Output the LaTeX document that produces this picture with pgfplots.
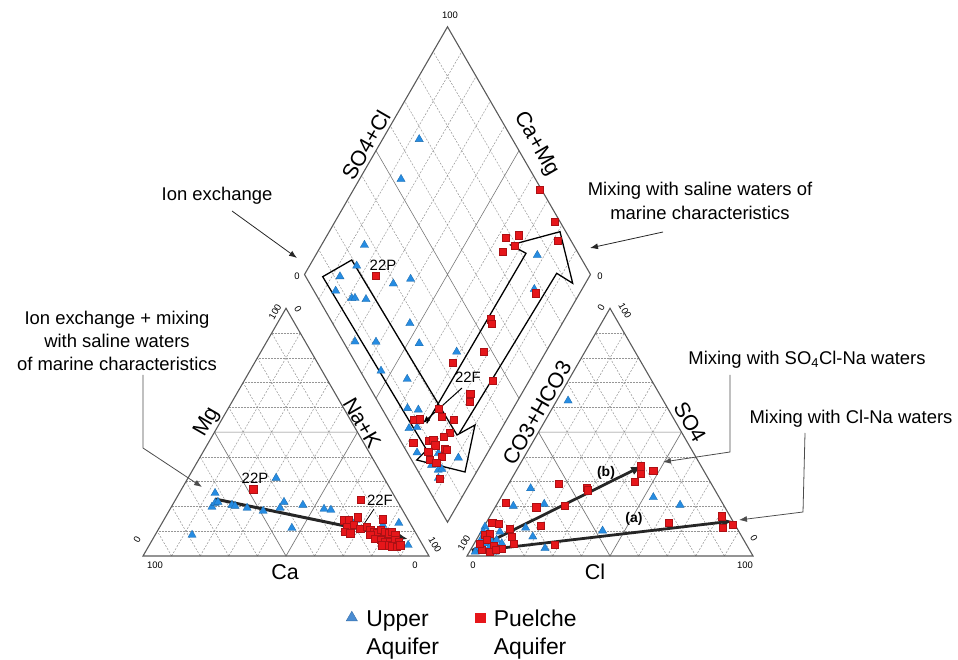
\documentclass[border=0pt]{standalone}
\usepackage{pgfplots}
\pgfplotsset{compat=1.18}
\usepackage{pgfplotstable}
\usepackage{fontspec}
\setmainfont{Liberation Sans}
\usetikzlibrary{arrows.meta}

\definecolor{upblue}{RGB}{38,140,226}
\definecolor{legblue}{RGB}{74,140,210}
\definecolor{pured}{RGB}{230,22,26}
\definecolor{framec}{RGB}{90,90,90}
\definecolor{gridc}{RGB}{150,150,150}

% Cation triangle: Mg and Na+K in percent (Ca = 100 - Mg - NaK)
\pgfplotstableread{
Mg NaK
31.5 30.8
25.4 12.5
19.8 14.2
21.4 14.5
21.8 15.3
20.6 20.8
20.2 22.1
19.4 26.7
18.2 32.9
19.4 38.2
21.8 38.4
20.6 45.6
19.0 53.8
18.6 56.4
11.3 46.4
8.5 12.9
14.5 67.2
12.5 77.6
13.3 82.8
4.4 90.5
}\catupper
\pgfplotstableread{
Mg NaK
27.0 25.0
22.6 64.9
14.9 76.4
15.7 67.3
14.5 62.8
14.5 64.6
11.8 65.3
12.5 67.3
9.8 65.7
9.2 67.8
11.2 70.3
11.8 72.3
10.5 74.2
9.8 75.6
9.2 77.1
10.5 77.7
9.8 79.7
9.2 81.2
9.8 82.0
8.5 83.9
8.5 75.2
7.1 77.6
6.5 79.7
5.8 81.7
5.8 83.5
6.5 84.9
5.8 86.4
4.4 83.0
4.0 84.9
3.8 86.8
4.4 87.7
4.4 81.3
}\catpuel

% Anion triangle: SO4 and Cl in percent (CO3+HCO3 = 100 - SO4 - Cl)
\pgfplotstableread{
SO4 Cl
62.7 4.0
27.3 8.6
20.2 6.1
21.0 16.5
23.7 53.3
20.6 64.2
10.2 42.3
11.4 14.8
7.8 19.1
3.1 25.7
11.8 0.4
9.8 0.8
9.2 2.8
7.1 1.6
5.1 4.3
5.8 5.7
9.8 6.6
6.5 7.1
5.1 9.6
3.1 2.4
2.4 4.5
3.8 6.1
1.7 8.9
1.7 2.0
}\anupper
\pgfplotstableread{
SO4 Cl
36.3 42.6
33.1 44.3
34.4 47.9
30.0 43.5
29.3 17.5
27.7 28.0
26.6 28.8
21.5 2.8
19.7 14.3
20.2 23.9
12.1 19.7
13.4 63.7
16.1 81.0
11.6 83.5
12.5 86.7
4.7 28.2
13.4 2.1
12.9 4.5
8.5 2.0
8.9 3.6
6.7 3.6
7.8 11.7
5.1 13.7
3.1 10.6
4.0 7.2
2.4 3.9
1.7 7.0
2.4 8.9
11.2 9.4
5.1 2.0
}\anpuel

% Diamond: SO4+Cl and Ca+Mg in percent
\pgfplotstableread{
SC CM
67.4 87.2
53.0 85.5
26.9 85.0
20.0 83.5
12.0 87.2
7.6 85.8
11.7 78.7
12.9 77.6
16.5 73.5
29.2 67.1
36.2 62.0
27.0 53.3
4.1 68.8
11.4 61.4
26.2 46.0
7.3 53.8
14.8 43.0
37.6 31.2
85.3 22.5
77.4 16.7
9.0 37.0
12.5 32.9
5.5 32.4
8.5 29.8
3.4 24.7
16.8 9.2
6.0 17.1
7.3 13.8
8.7 12.7
10.7 17.1
5.7 12.1
}\dmupper
\pgfplotstableread{
SC CM
24.7 74.7
99.4 34.7
98.0 23.3
95.3 18.2
77.8 37.1
82.7 33.2
73.9 35.3
79.1 32.4
77.2 15.3
56.2 25.8
55.6 24.7
46.9 21.9
34.0 30.5
44.3 13.0
33.8 18.0
32.2 16.5
19.8 26.2
19.3 23.4
22.8 18.7
8.8 32.7
11.0 30.6
18.7 17.4
15.8 18.7
9.8 23.2
11.6 21.6
4.0 28.0
11.2 19.9
14.0 15.8
14.3 14.9
7.5 21.0
11.2 15.3
6.5 18.7
6.0 11.7
8.0 16.0
}\dmpuel

% ternary frame with 10 % grid; #1 = x of the lower-left corner
\newcommand\ternframe[1]{%
  \draw[gridc, densely dotted, line width=0.5pt]
    \foreach \i in {1,2,3,4,6,7,8,9} {({#1+14.3*\i},{556-24.77*\i}) -- ({#1+286-14.3*\i},{556-24.77*\i})};
  \draw[gridc, dash pattern=on 2pt off 1.5pt, line width=0.5pt]
    \foreach \i in {1,2,3,4,6,7,8,9} {
      ({#1+28.6*\i},556) -- ({#1+143+14.3*\i},{308.3+24.77*\i})
      ({#1+286-28.6*\i},556) -- ({#1+143-14.3*\i},{308.3+24.77*\i})};
  \draw[gridc!80!black, line width=0.7pt]
    ({#1+71.5},432.15) -- ({#1+214.5},432.15) -- ({#1+143},556) -- cycle;
  \draw[framec, line width=1.1pt] (#1,556) -- ({#1+286},556) -- ({#1+143},308.3) -- cycle;
}

\begin{document}
\begin{tikzpicture}
\begin{axis}[
  width=958bp, height=660bp, scale only axis,
  xmin=0, xmax=958, ymin=0, ymax=660, y dir=reverse,
  axis lines=none, xtick=\empty, ytick=\empty, clip=false,
  legend style={at={(axis cs:346,605)}, anchor=north west, draw=none, fill=none,
    legend columns=2, inner sep=0pt, font=\fontsize{23}{28}\selectfont,
    /tikz/every odd column/.append style={column sep=7pt},
    /tikz/every even column/.append style={column sep=34pt}},
  legend cell align=left,
]
\addplot[draw=none, forget plot] coordinates {(0,0) (958,660)};

% ---- triangles
\ternframe{143}
\ternframe{467}

% ---- diamond grid and frame
\draw[gridc, dash pattern=on 2pt off 1.5pt, line width=0.5pt]
  \foreach \i in {1,2,3,4,6,7,8,9} {
    ({447.5+14.3*\i},{522.2-24.77*\i}) -- ({304.5+14.3*\i},{274.5-24.77*\i})
    ({447.5-14.3*\i},{522.2-24.77*\i}) -- ({590.5-14.3*\i},{274.5-24.77*\i})};
\draw[gridc!80!black, line width=0.6pt]
  (519,398.35) -- (376,150.65) (376,398.35) -- (519,150.65);
\draw[framec, line width=1.1pt] (447.5,522.2) -- (304.5,274.5) -- (447.5,26.8) -- (590.5,274.5) -- cycle;

% ---- tick values
\begin{scope}[font=\fontsize{9.5}{11}\selectfont]
\node[rotate=60] at (275,312) {100};
\node[rotate=-60] at (298,309) {0};
\node[rotate=60] at (137,540) {0};
\node at (155,565) {100};
\node at (415,565) {0};
\node[rotate=-60] at (435,545) {100};
\node[rotate=60] at (601,308) {0};
\node[rotate=-60] at (625,311) {100};
\node[rotate=60] at (464,543) {100};
\node at (473,565) {0};
\node at (745,565) {100};
\node[rotate=-60] at (754,538) {0};
\node at (450,15) {100};
\node at (297,276) {0};
\node at (600,276) {0};
\end{scope}

% ---- axis names
\begin{scope}[font=\fontsize{21.5}{24}\selectfont]
\node[rotate=60] at (207,422) {Mg};
\node at (285,572) {Ca};
\node[rotate=-60] at (362,423) {Na+K};
\node[rotate=60] at (537,413) {CO3+HCO3};
\node[rotate=-60] at (690,422) {SO4};
\node at (595,572) {Cl};
\node[rotate=60] at (366,145) {SO4+Cl};
\node[rotate=-60] at (536,144) {Ca+Mg};
\end{scope}

% ---- samples
\pgfplotsset{
  upper/.style={only marks, mark=triangle*, mark size=4.8pt,
    mark options={fill=upblue, draw=upblue!75!black, line width=0.3pt}, forget plot},
  puel/.style={only marks, mark=square*, mark size=3.6pt,
    mark options={fill=pured, draw=pured!75!black, line width=0.3pt}, forget plot},
}
\addplot[upper] table[x expr={143+2.86*(\thisrow{NaK}+0.5*\thisrow{Mg})}, y expr={556-2.477*\thisrow{Mg}}] {\catupper};
\addplot[puel] table[x expr={143+2.86*(\thisrow{NaK}+0.5*\thisrow{Mg})}, y expr={556-2.477*\thisrow{Mg}}] {\catpuel};
\addplot[upper] table[x expr={467+2.86*(\thisrow{Cl}+0.5*\thisrow{SO4})}, y expr={556-2.477*\thisrow{SO4}}] {\anupper};
\addplot[puel] table[x expr={467+2.86*(\thisrow{Cl}+0.5*\thisrow{SO4})}, y expr={556-2.477*\thisrow{SO4}}] {\anpuel};
\addplot[upper] table[x expr={447.5+1.43*(\thisrow{SC}-\thisrow{CM})}, y expr={522.2-2.477*(\thisrow{SC}+\thisrow{CM})}] {\dmupper};
\addplot[puel] table[x expr={447.5+1.43*(\thisrow{SC}-\thisrow{CM})}, y expr={522.2-2.477*(\thisrow{SC}+\thisrow{CM})}] {\dmpuel};

% ---- evolution arrows
\draw[black!85, line width=3pt, -{Latex[length=11pt,width=9pt]}] (215,499) -- (408,539);
\draw[black!85, line width=2.8pt, -{Latex[length=11pt,width=9pt]}] (472,551.5) -- (733,521);
\draw[black!85, line width=2.8pt, -{Latex[length=11pt,width=9pt]}] (472,550.5) -- (642,466);
\draw[black, line width=1.3pt, line join=miter]
  (322.7,276.7) -- (351.7,260) -- (457,435) -- (475,425) -- (465,472) -- (416.7,460) -- (426.7,450) -- cycle;
\draw[black, line width=1.3pt, line join=miter]
  (426.7,423.3) -- (526,253.3) -- (510.7,245) -- (560,231.7) -- (572.7,283.3) -- (556.7,273.3) -- (459.3,433.3);

% ---- sample tags
\begin{scope}[font=\fontsize{15}{17}\selectfont]
\node at (255,478) {22P};
\node at (380,500) {22F};
\draw[black, line width=0.8pt] (374,509) -- (364,524);
\node at (383,265) {22P};
\node at (468,377) {22F};
\draw[black, line width=1pt, -{Latex[length=7pt,width=6pt]}] (462,388) -- (423,423);
\end{scope}
\node[font=\fontsize{14}{16}\selectfont\bfseries] at (634,519) {(a)};
\node[font=\fontsize{14}{16}\selectfont\bfseries] at (606,473) {(b)};

% ---- process annotations
\begin{scope}[font=\fontsize{18.5}{23.4}\selectfont]
\node at (217,196) {Ion exchange};
\node[align=center] at (700,201) {Mixing with saline waters of\\marine characteristics};
\node[align=center] at (117,341) {Ion exchange + mixing\\with saline waters\\of marine characteristics};
\node at (807,360) {Mixing with SO\textsubscript{4}Cl-Na waters};
\node at (851,419) {Mixing with Cl-Na waters};
\end{scope}
\draw[black!85, line width=0.8pt, -{Latex[length=8pt,width=6pt]}] (232,211) -- (297,258);
\draw[black!85, line width=0.8pt, -{Latex[length=8pt,width=6pt]}] (663,232) -- (590,248);
\draw[black!70, line width=0.8pt, -{Latex[length=8pt,width=6pt]}] (143,375) -- (143,448) -- (202,487);
\draw[black!70, line width=0.8pt, -{Latex[length=8pt,width=6pt]}] (730,375) -- (730,452) -- (663,462);
\draw[black!70, line width=0.8pt, -{Latex[length=8pt,width=6pt]}] (805,433) -- (803,512) -- (739,520);

% ---- legend
\addlegendimage{only marks, mark=triangle*, mark size=6.5pt, mark options={fill=legblue, draw=legblue!80!black}}
\addlegendentry{\begin{tabular}[t]{@{}l@{}}Upper\\Aquifer\end{tabular}}
\addlegendimage{only marks, mark=square*, mark size=5pt, mark options={fill=pured, draw=pured}}
\addlegendentry{\begin{tabular}[t]{@{}l@{}}Puelche\\Aquifer\end{tabular}}
\end{axis}
\end{tikzpicture}
\end{document}
